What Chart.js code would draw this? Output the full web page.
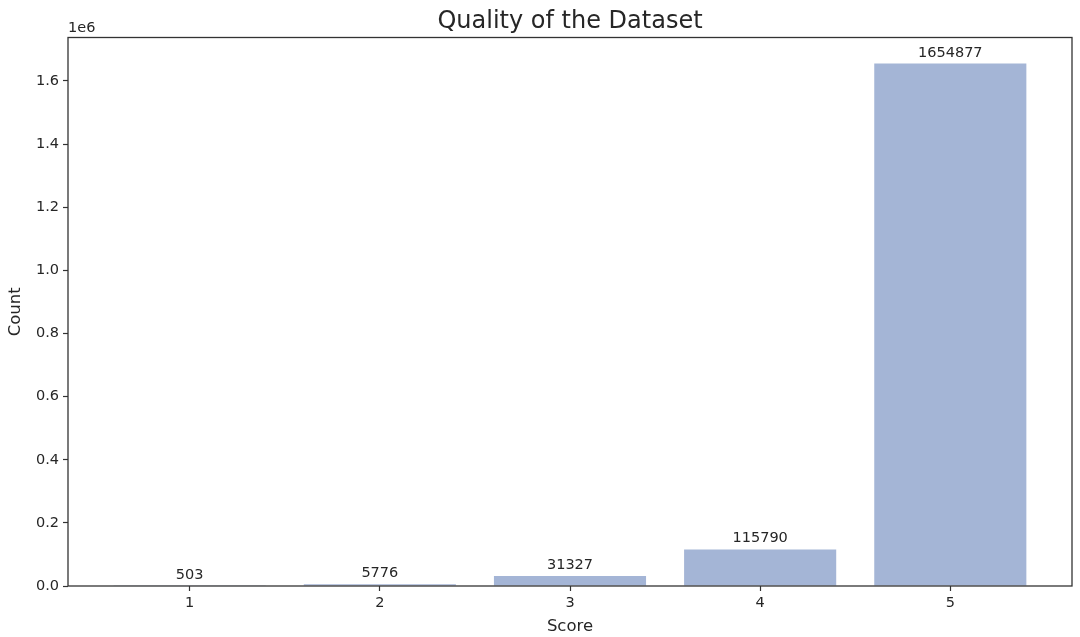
<!DOCTYPE html>
<html>
<head>
<meta charset="utf-8">
<script src="https://cdn.jsdelivr.net/npm/chart.js@4"></script>
<style>
html,body{margin:0;padding:0;background:#fff;}
#wrap{width:1080px;height:637px;position:relative;}
</style>
</head>
<body>
<div id="wrap"><canvas id="c" width="1080" height="637"></canvas></div>
<script>
const categories = [1, 2, 3, 4, 5];
const counts = [503, 5776, 31327, 115790, 1654877];
const yTicks = [0, 200000, 400000, 600000, 800000, 1000000, 1200000, 1400000, 1600000];
const titleText = 'Quality of the Dataset';
const xMin = 0.36, xMax = 5.64;
const yMax = 1737621;

const FONT = "'DejaVu Sans', sans-serif";
const TXT = '#262626';

const boxAndLabels = {
  id: 'boxAndLabels',
  afterDatasetsDraw(chart) {
    const ctx = chart.ctx;
    const meta = chart.getDatasetMeta(0);
    ctx.save();
    ctx.font = "14.5px " + FONT;
    ctx.fillStyle = TXT;
    ctx.textAlign = 'center';
    ctx.textBaseline = 'alphabetic';
    meta.data.forEach((bar, i) => {
      ctx.fillText(String(counts[i]), bar.x, bar.y - 7);
    });
    ctx.restore();
  },
  afterDraw(chart) {
    const ctx = chart.ctx;
    const a = chart.chartArea;
    ctx.save();
    ctx.strokeStyle = '#333';
    ctx.lineWidth = 1.3;
    ctx.strokeRect(a.left, a.top, a.right - a.left, a.bottom - a.top);
    ctx.font = "14.5px " + FONT;
    ctx.fillStyle = TXT;
    ctx.textAlign = 'left';
    ctx.textBaseline = 'alphabetic';
    ctx.fillText('1e6', a.left, a.top - 6);
    ctx.font = "24px " + FONT;
    ctx.textAlign = 'center';
    ctx.fillText(titleText, (a.left + a.right) / 2, 28);
    ctx.restore();
  }
};

new Chart(document.getElementById('c'), {
  type: 'bar',
  data: {
    datasets: [{
      data: categories.map((c, i) => ({x: c, y: counts[i]})),
      backgroundColor: 'rgba(164,181,214,1)',
      borderWidth: 0,
      barPercentage: 0.8,
      categoryPercentage: 1.0
    }]
  },
  plugins: [boxAndLabels],
  options: {
    responsive: false,
    animation: false,
    layout: {padding: {left: 0, right: 8, top: 37.5, bottom: 0}},
    plugins: {
      legend: {display: false},
      tooltip: {enabled: false},
      title: {display: false}
    },
    scales: {
      x: {
        type: 'linear',
        min: xMin,
        max: xMax,
        offset: false,
        grid: {display: true, offset: false, drawOnChartArea: false, drawTicks: true, tickLength: 5, tickColor: '#333', tickWidth: 1.2},
        border: {display: false},
        afterBuildTicks: s => { s.ticks = categories.map(v => ({value: v})); },
        ticks: {color: TXT, font: {family: FONT, size: 14.5}, padding: 4, maxRotation: 0},
        title: {display: true, text: 'Score', color: TXT, font: {family: FONT, size: 16.5}, padding: {top: 3, bottom: 0}},
        afterFit: s => { s.height = 51; }
      },
      y: {
        min: 0,
        max: yMax,
        grid: {display: true, offset: false, drawOnChartArea: false, drawTicks: true, tickLength: 5, tickColor: '#333', tickWidth: 1.2},
        border: {display: false},
        afterBuildTicks: s => { s.ticks = yTicks.map(v => ({value: v})); },
        ticks: {color: TXT, font: {family: FONT, size: 14.5}, padding: 4,
          callback: v => (v / 1e6).toFixed(1)},
        title: {display: true, text: 'Count', color: TXT, font: {family: FONT, size: 16.5}, padding: {top: 6, bottom: 4}},
        afterFit: s => { s.width = 68; }
      }
    }
  }
});
</script>
</body>
</html>
